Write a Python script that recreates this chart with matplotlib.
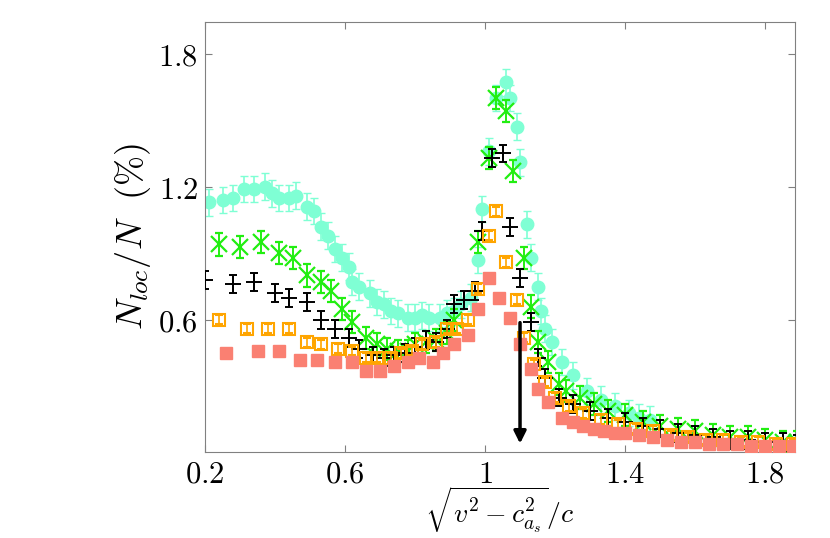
import matplotlib
matplotlib.use("Agg")
import matplotlib.pyplot as plt
import numpy as np

plt.rcParams["mathtext.fontset"] = "cm"
plt.rcParams["font.family"] = "serif"

# cyan circles
x_cyan = [0.21, 0.25, 0.28, 0.31, 0.34, 0.37, 0.39, 0.41, 0.44, 0.46, 0.49, 0.51, 0.53, 0.55, 0.57,
          0.59, 0.61, 0.62, 0.64, 0.67, 0.69, 0.71, 0.73, 0.75, 0.78, 0.80, 0.82, 0.84, 0.87, 0.89,
          0.91, 0.93, 0.96, 0.98, 0.99, 1.01, 1.03, 1.06, 1.07, 1.09, 1.10, 1.12, 1.13, 1.15, 1.16,
          1.17, 1.19, 1.22, 1.25, 1.29, 1.33, 1.37, 1.41, 1.44, 1.47]
y_cyan = [1.13, 1.14, 1.15, 1.19, 1.19, 1.20, 1.17, 1.15, 1.15, 1.16, 1.11, 1.09, 1.02, 0.98, 0.92,
          0.88, 0.84, 0.77, 0.75, 0.72, 0.68, 0.67, 0.64, 0.63, 0.61, 0.61, 0.62, 0.61, 0.61, 0.63,
          0.64, 0.67, 0.70, 0.87, 1.10, 1.36, 1.60, 1.67, 1.60, 1.47, 1.31, 1.03, 0.88, 0.75, 0.64,
          0.56, 0.50, 0.41, 0.35, 0.28, 0.24, 0.21, 0.18, 0.16, 0.15]
e_cyan = 0.06

# green crosses
x_green = [0.24, 0.30, 0.36, 0.41, 0.45, 0.49, 0.53, 0.56, 0.59, 0.62, 0.66, 0.69, 0.72, 0.75, 0.78,
           0.80, 0.83, 0.86, 0.89, 0.91, 0.98, 1.01, 1.03, 1.06, 1.08, 1.11, 1.13, 1.15, 1.18, 1.21,
           1.23, 1.27, 1.31, 1.35, 1.40, 1.45, 1.50, 1.55, 1.60, 1.65, 1.70, 1.75, 1.80, 1.85, 1.89]
y_green = [0.94, 0.93, 0.95, 0.90, 0.88, 0.80, 0.77, 0.73, 0.65, 0.59, 0.52, 0.49, 0.47, 0.46, 0.46,
           0.49, 0.50, 0.51, 0.54, 0.60, 0.95, 1.33, 1.60, 1.54, 1.27, 0.88, 0.66, 0.50, 0.41, 0.31,
           0.28, 0.25, 0.22, 0.19, 0.17, 0.14, 0.12, 0.11, 0.10, 0.08, 0.07, 0.07, 0.06, 0.05, 0.05]
e_green = 0.05

# black pluses
x_black = [0.20, 0.28, 0.34, 0.40, 0.44, 0.49, 0.53, 0.57, 0.61, 0.64, 0.68, 0.71, 0.74, 0.77, 0.80,
           0.83, 0.86, 0.89, 0.91, 0.94, 0.97, 0.99, 1.02, 1.05, 1.07, 1.10, 1.13, 1.15, 1.17, 1.21,
           1.25, 1.30, 1.35, 1.40, 1.45, 1.50, 1.55, 1.60, 1.65, 1.70, 1.75, 1.80, 1.85, 1.89]
y_black = [0.78, 0.76, 0.77, 0.72, 0.70, 0.68, 0.60, 0.56, 0.52, 0.47, 0.44, 0.43, 0.44, 0.45, 0.48,
           0.51, 0.50, 0.56, 0.67, 0.69, 0.73, 1.00, 1.33, 1.35, 1.02, 0.79, 0.59, 0.43, 0.34, 0.25,
           0.22, 0.19, 0.16, 0.14, 0.12, 0.11, 0.09, 0.08, 0.07, 0.06, 0.06, 0.05, 0.05, 0.04]
e_black = 0.04

# orange open squares
x_orange = [0.24, 0.32, 0.38, 0.44, 0.49, 0.53, 0.58, 0.62, 0.66, 0.69, 0.73, 0.76, 0.79, 0.82, 0.86,
            0.89, 0.92, 0.95, 0.98, 1.01, 1.03, 1.06, 1.09, 1.11, 1.14, 1.17, 1.20, 1.24, 1.28, 1.33,
            1.38, 1.43, 1.48, 1.53, 1.58, 1.63, 1.68, 1.73, 1.78, 1.83, 1.88]
y_orange = [0.60, 0.56, 0.56, 0.56, 0.50, 0.49, 0.47, 0.46, 0.43, 0.43, 0.43, 0.45, 0.46, 0.49, 0.50,
            0.56, 0.56, 0.60, 0.74, 0.98, 1.09, 0.86, 0.69, 0.52, 0.40, 0.32, 0.25, 0.21, 0.18, 0.15,
            0.13, 0.11, 0.10, 0.08, 0.07, 0.06, 0.06, 0.05, 0.05, 0.04, 0.04]
e_orange = 0.02

# salmon filled squares
x_salmon = [0.26, 0.35, 0.41, 0.47, 0.52, 0.57, 0.62, 0.66, 0.70, 0.74, 0.78, 0.81, 0.85, 0.88, 0.91,
            0.95, 0.98, 1.01, 1.04, 1.07, 1.10, 1.13, 1.15, 1.18, 1.22, 1.25, 1.28, 1.31, 1.34, 1.37,
            1.40, 1.44, 1.48, 1.52, 1.56, 1.60, 1.64, 1.68, 1.72, 1.76, 1.80, 1.84, 1.88]
y_salmon = [0.45, 0.46, 0.46, 0.42, 0.42, 0.41, 0.41, 0.37, 0.37, 0.39, 0.41, 0.43, 0.41, 0.45, 0.49,
            0.53, 0.65, 0.79, 0.70, 0.61, 0.49, 0.38, 0.29, 0.23, 0.16, 0.14, 0.12, 0.11, 0.10, 0.09,
            0.09, 0.08, 0.07, 0.06, 0.05, 0.05, 0.04, 0.04, 0.04, 0.03, 0.03, 0.03, 0.03]
e_salmon = 0.01

x_ticks = [0.2, 0.6, 1.0, 1.4, 1.8]
x_tick_labels = ["$0.2$", "$0.6$", "$1$", "$1.4$", "$1.8$"]
y_ticks = [0.6, 1.2, 1.8]
y_tick_labels = ["$0.6$", "$1.2$", "$1.8$"]
arrow_x, arrow_top, arrow_bottom = 1.10, 0.60, 0.03

fig = plt.figure(figsize=(8.3, 5.38), dpi=100)
ax = fig.add_axes([0.247, 0.160, 0.711, 0.799])

ax.errorbar(x_cyan, y_cyan, yerr=e_cyan, fmt="o", color="#7fffd4", ms=9, capsize=3, elinewidth=1.2, zorder=2)
ax.errorbar(x_green, y_green, yerr=e_green, fmt="x", color="#22ee11", ms=11, mew=1.6, capsize=3, elinewidth=1.4, zorder=3)
ax.errorbar(x_black, y_black, yerr=e_black, fmt="+", color="black", ms=11, mew=1.4, capsize=3, elinewidth=1.2, zorder=4)
ax.errorbar(x_orange, y_orange, yerr=e_orange, fmt="s", mfc="none", mec="orange", color="orange", ms=9, mew=1.5, capsize=3, elinewidth=1.2, zorder=5)
ax.errorbar(x_salmon, y_salmon, yerr=e_salmon, fmt="s", color="#fa8072", ms=9, capsize=3, elinewidth=1.2, zorder=6)

ax.annotate("", xy=(arrow_x, arrow_bottom), xytext=(arrow_x, arrow_top),
            arrowprops=dict(arrowstyle="-|>", color="black", lw=2.5, mutation_scale=18), zorder=7)

ax.set_xlim(0.2, 1.886)
ax.set_ylim(0.005, 1.942)
ax.set_xticks(x_ticks)
ax.set_xticklabels(x_tick_labels, fontsize=22)
ax.set_yticks(y_ticks)
ax.set_yticklabels(y_tick_labels, fontsize=22)
ax.tick_params(direction="in", top=True, right=True, length=5, color="gray", pad=5)
for s in ax.spines.values():
    s.set_color("gray")

ax.set_xlabel(r"$\sqrt{v^2-c_{a_s}^2}/c$", fontsize=20, labelpad=-4)
ax.set_ylabel(r"$N_{loc}/N\ \ (\%)$", fontsize=26, labelpad=4)

fig.savefig("out.png", dpi=100)
